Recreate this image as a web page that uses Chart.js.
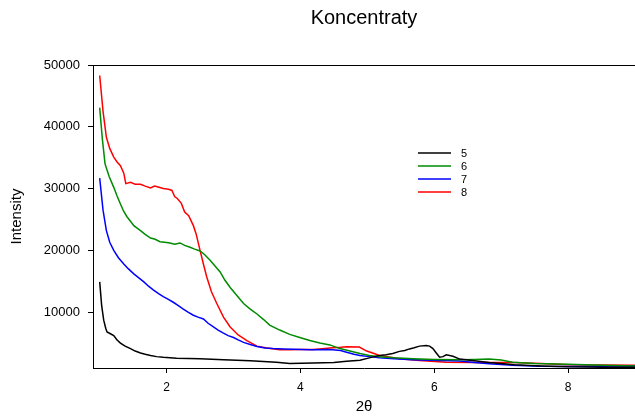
<!DOCTYPE html>
<html>
<head>
<meta charset="utf-8">
<script src="https://cdn.jsdelivr.net/npm/chart.js@4"></script>
<style>
  html, body { margin: 0; padding: 0; background: #fff; overflow: hidden; }
  #wrap { width: 635px; height: 416px; }
</style>
</head>
<body>
<div id="wrap"><canvas id="chart"></canvas></div>
<script>
// series labels and colours
const seriesNames = ['5', '6', '7', '8'];
const seriesColors = ['#000000', '#008B00', '#0000FF', '#FF0000'];

// sample 5
const x5 = [1.0, 1.03, 1.06, 1.09, 1.11, 1.16, 1.21, 1.26, 1.31, 1.38, 1.46, 1.53, 1.61, 1.68, 1.76, 1.85, 1.95, 2.15, 2.5, 2.85, 3.25, 3.64, 3.84, 4.19, 4.5, 4.69, 4.89, 5.03, 5.18, 5.28, 5.38, 5.48, 5.56, 5.63, 5.70, 5.78, 5.88, 5.93, 5.98, 6.03, 6.08, 6.13, 6.18, 6.28, 6.38, 6.6, 6.82, 7.2, 7.6, 8.0, 8.5, 9.0];
const y5 = [14900, 11000, 8700, 7400, 6800, 6500, 6200, 5500, 5000, 4500, 4100, 3700, 3400, 3200, 3000, 2800, 2700, 2550, 2450, 2300, 2150, 1900, 1700, 1750, 1850, 2050, 2200, 2600, 3000, 3100, 3300, 3650, 3800, 4050, 4250, 4500, 4600, 4500, 4100, 3400, 2700, 2800, 3100, 2850, 2400, 2150, 1850, 1500, 1300, 1150, 1100, 1100];

// sample 6
const x6 = [1.0, 1.04, 1.08, 1.14, 1.21, 1.26, 1.31, 1.36, 1.41, 1.46, 1.51, 1.56, 1.61, 1.68, 1.76, 1.83, 1.90, 1.97, 2.05, 2.12, 2.20, 2.27, 2.35, 2.42, 2.50, 2.57, 2.65, 2.72, 2.80, 2.87, 2.95, 3.05, 3.15, 3.25, 3.35, 3.45, 3.54, 3.69, 3.84, 3.99, 4.14, 4.29, 4.44, 4.59, 4.74, 4.89, 5.03, 5.18, 5.4, 5.68, 6.0, 6.38, 6.6, 6.82, 7.0, 7.17, 7.5, 8.0, 8.5, 9.0];
const y6 = [43100, 38000, 34000, 32000, 30200, 28800, 27500, 26300, 25400, 24700, 24000, 23600, 23200, 22600, 22000, 21800, 21400, 21300, 21200, 21000, 21200, 20800, 20500, 20200, 19900, 19300, 18400, 17500, 16500, 15200, 14000, 12700, 11400, 10500, 9700, 8800, 7900, 7100, 6400, 5900, 5400, 5000, 4700, 4100, 3700, 3300, 3000, 2800, 2600, 2450, 2350, 2300, 2350, 2400, 2250, 1900, 1700, 1550, 1400, 1300];

// sample 7
const x7 = [1.0, 1.05, 1.10, 1.15, 1.21, 1.28, 1.36, 1.43, 1.51, 1.58, 1.66, 1.73, 1.80, 1.88, 1.95, 2.02, 2.10, 2.17, 2.25, 2.32, 2.40, 2.47, 2.55, 2.62, 2.70, 2.77, 2.85, 2.92, 3.00, 3.07, 3.15, 3.25, 3.35, 3.47, 3.59, 3.75, 3.90, 4.14, 4.44, 4.60, 4.69, 4.80, 4.89, 5.03, 5.18, 5.4, 5.68, 6.08, 6.38, 6.6, 6.82, 7.17, 7.57, 8.0, 8.5, 9.0];
const y7 = [31700, 26500, 23200, 21300, 20000, 18800, 17800, 17000, 16200, 15600, 14900, 14200, 13600, 13000, 12500, 12100, 11600, 11100, 10500, 10000, 9500, 9200, 8900, 8200, 7600, 7100, 6600, 6200, 5900, 5500, 5100, 4750, 4450, 4200, 4100, 4050, 4000, 3900, 3950, 3800, 3500, 3200, 3000, 2800, 2600, 2450, 2300, 2180, 2100, 1850, 1650, 1400, 1250, 1200, 1250, 1300];

// sample 8
const x8 = [1.0, 1.05, 1.10, 1.15, 1.21, 1.26, 1.31, 1.36, 1.39, 1.46, 1.53, 1.61, 1.68, 1.76, 1.82, 1.86, 1.95, 2.03, 2.08, 2.12, 2.16, 2.22, 2.27, 2.33, 2.40, 2.44, 2.50, 2.55, 2.60, 2.67, 2.75, 2.85, 2.95, 3.07, 3.20, 3.35, 3.50, 3.69, 3.84, 4.0, 4.2, 4.44, 4.6, 4.69, 4.88, 4.99, 5.10, 5.18, 5.3, 5.48, 5.78, 6.18, 6.6, 7.17, 7.6, 8.0, 8.5, 9.0];
const y8 = [48300, 42500, 38300, 36500, 35100, 34300, 33700, 32500, 30800, 31000, 30700, 30700, 30400, 30100, 30400, 30300, 30000, 29900, 29700, 28700, 28400, 27600, 26200, 25600, 24000, 22700, 20000, 17800, 15700, 13300, 11400, 9200, 7600, 6300, 5400, 4500, 4200, 3900, 3900, 3950, 3950, 4200, 4300, 4400, 4350, 3700, 3300, 3000, 2800, 2450, 2180, 1900, 1850, 1850, 1700, 1500, 1450, 1400];

// axis ticks
const xTicks = [2, 4, 6, 8];
const yTicks = [10000, 20000, 30000, 40000, 50000];

const xs = [x5, x6, x7, x8];
const ys = [y5, y6, y7, y8];

const FONT = '"Liberation Sans", Arial, Helvetica, sans-serif';

const datasets = seriesNames.map((name, i) => ({
    label: name,
    data: xs[i].map((x, j) => ({ x: x, y: ys[i][j] })),
    borderColor: seriesColors[i],
    backgroundColor: seriesColors[i],
    borderWidth: 1.5,
    pointRadius: 0,
    tension: 0,
    fill: false
}));

// top frame line + legend drawn inside the plot
const framePlugin = {
    id: 'frame',
    afterDraw(chart) {
        const ctx = chart.ctx;
        const a = chart.chartArea;
        ctx.save();
        ctx.strokeStyle = '#000';
        ctx.lineWidth = 1;
        ctx.beginPath();
        ctx.moveTo(a.left, a.top + 0.5);
        ctx.lineTo(a.right, a.top + 0.5);
        ctx.stroke();

        // legend
        const lx = a.left + 325;
        const ly = a.top + 88;
        ctx.font = '11px ' + FONT;
        ctx.textBaseline = 'middle';
        ctx.textAlign = 'left';
        seriesNames.forEach((name, i) => {
            const y = ly + i * 13;
            ctx.strokeStyle = seriesColors[i];
            ctx.lineWidth = 1.5;
            ctx.beginPath();
            ctx.moveTo(lx, y);
            ctx.lineTo(lx + 33, y);
            ctx.stroke();
            ctx.fillStyle = '#000';
            ctx.fillText(name, lx + 43, y + 1);
        });
        ctx.restore();
    }
};

new Chart(document.getElementById('chart'), {
    type: 'line',
    data: { datasets: datasets },
    options: {
        responsive: true,
        maintainAspectRatio: false,
        animation: false,
        layout: { padding: 0 },
        plugins: {
            legend: { display: false },
            tooltip: { enabled: false },
            title: {
                display: true,
                text: 'Koncentraty',
                fullSize: false,
                color: '#000',
                font: { family: FONT, size: 20, weight: 'normal' },
                padding: { top: 6, bottom: 35 }
            }
        },
        scales: {
            x: {
                type: 'linear',
                min: 0.9,
                max: 9.0,
                afterBuildTicks: (s) => { s.ticks = xTicks.map(v => ({ value: v })); },
                afterFit: (s) => { s.height = 48; },
                grid: { drawOnChartArea: false, tickLength: 5, color: '#000' },
                border: { display: true, color: '#000', width: 1 },
                ticks: { color: '#000', font: { family: FONT, size: 12 }, padding: 7, maxRotation: 0,
                         callback: (v) => String(v) },
                title: {
                    display: true,
                    text: '2θ',
                    color: '#000',
                    font: { family: FONT, size: 15 },
                    padding: { top: 0, bottom: 0 }
                }
            },
            y: {
                type: 'linear',
                min: 960,
                max: 50000,
                afterBuildTicks: (s) => { s.ticks = yTicks.map(v => ({ value: v })); },
                afterFit: (s) => { s.width = 93; },
                grid: { drawOnChartArea: false, tickLength: 5, color: '#000' },
                border: { display: true, color: '#000', width: 1 },
                ticks: { color: '#000', font: { family: FONT, size: 13 }, padding: 8,
                         callback: (v) => String(v) },
                title: {
                    display: true,
                    text: 'Intensity',
                    color: '#000',
                    font: { family: FONT, size: 15 },
                    padding: { top: 8, bottom: 0 }
                }
            }
        }
    },
    plugins: [framePlugin]
});
</script>
</body>
</html>
